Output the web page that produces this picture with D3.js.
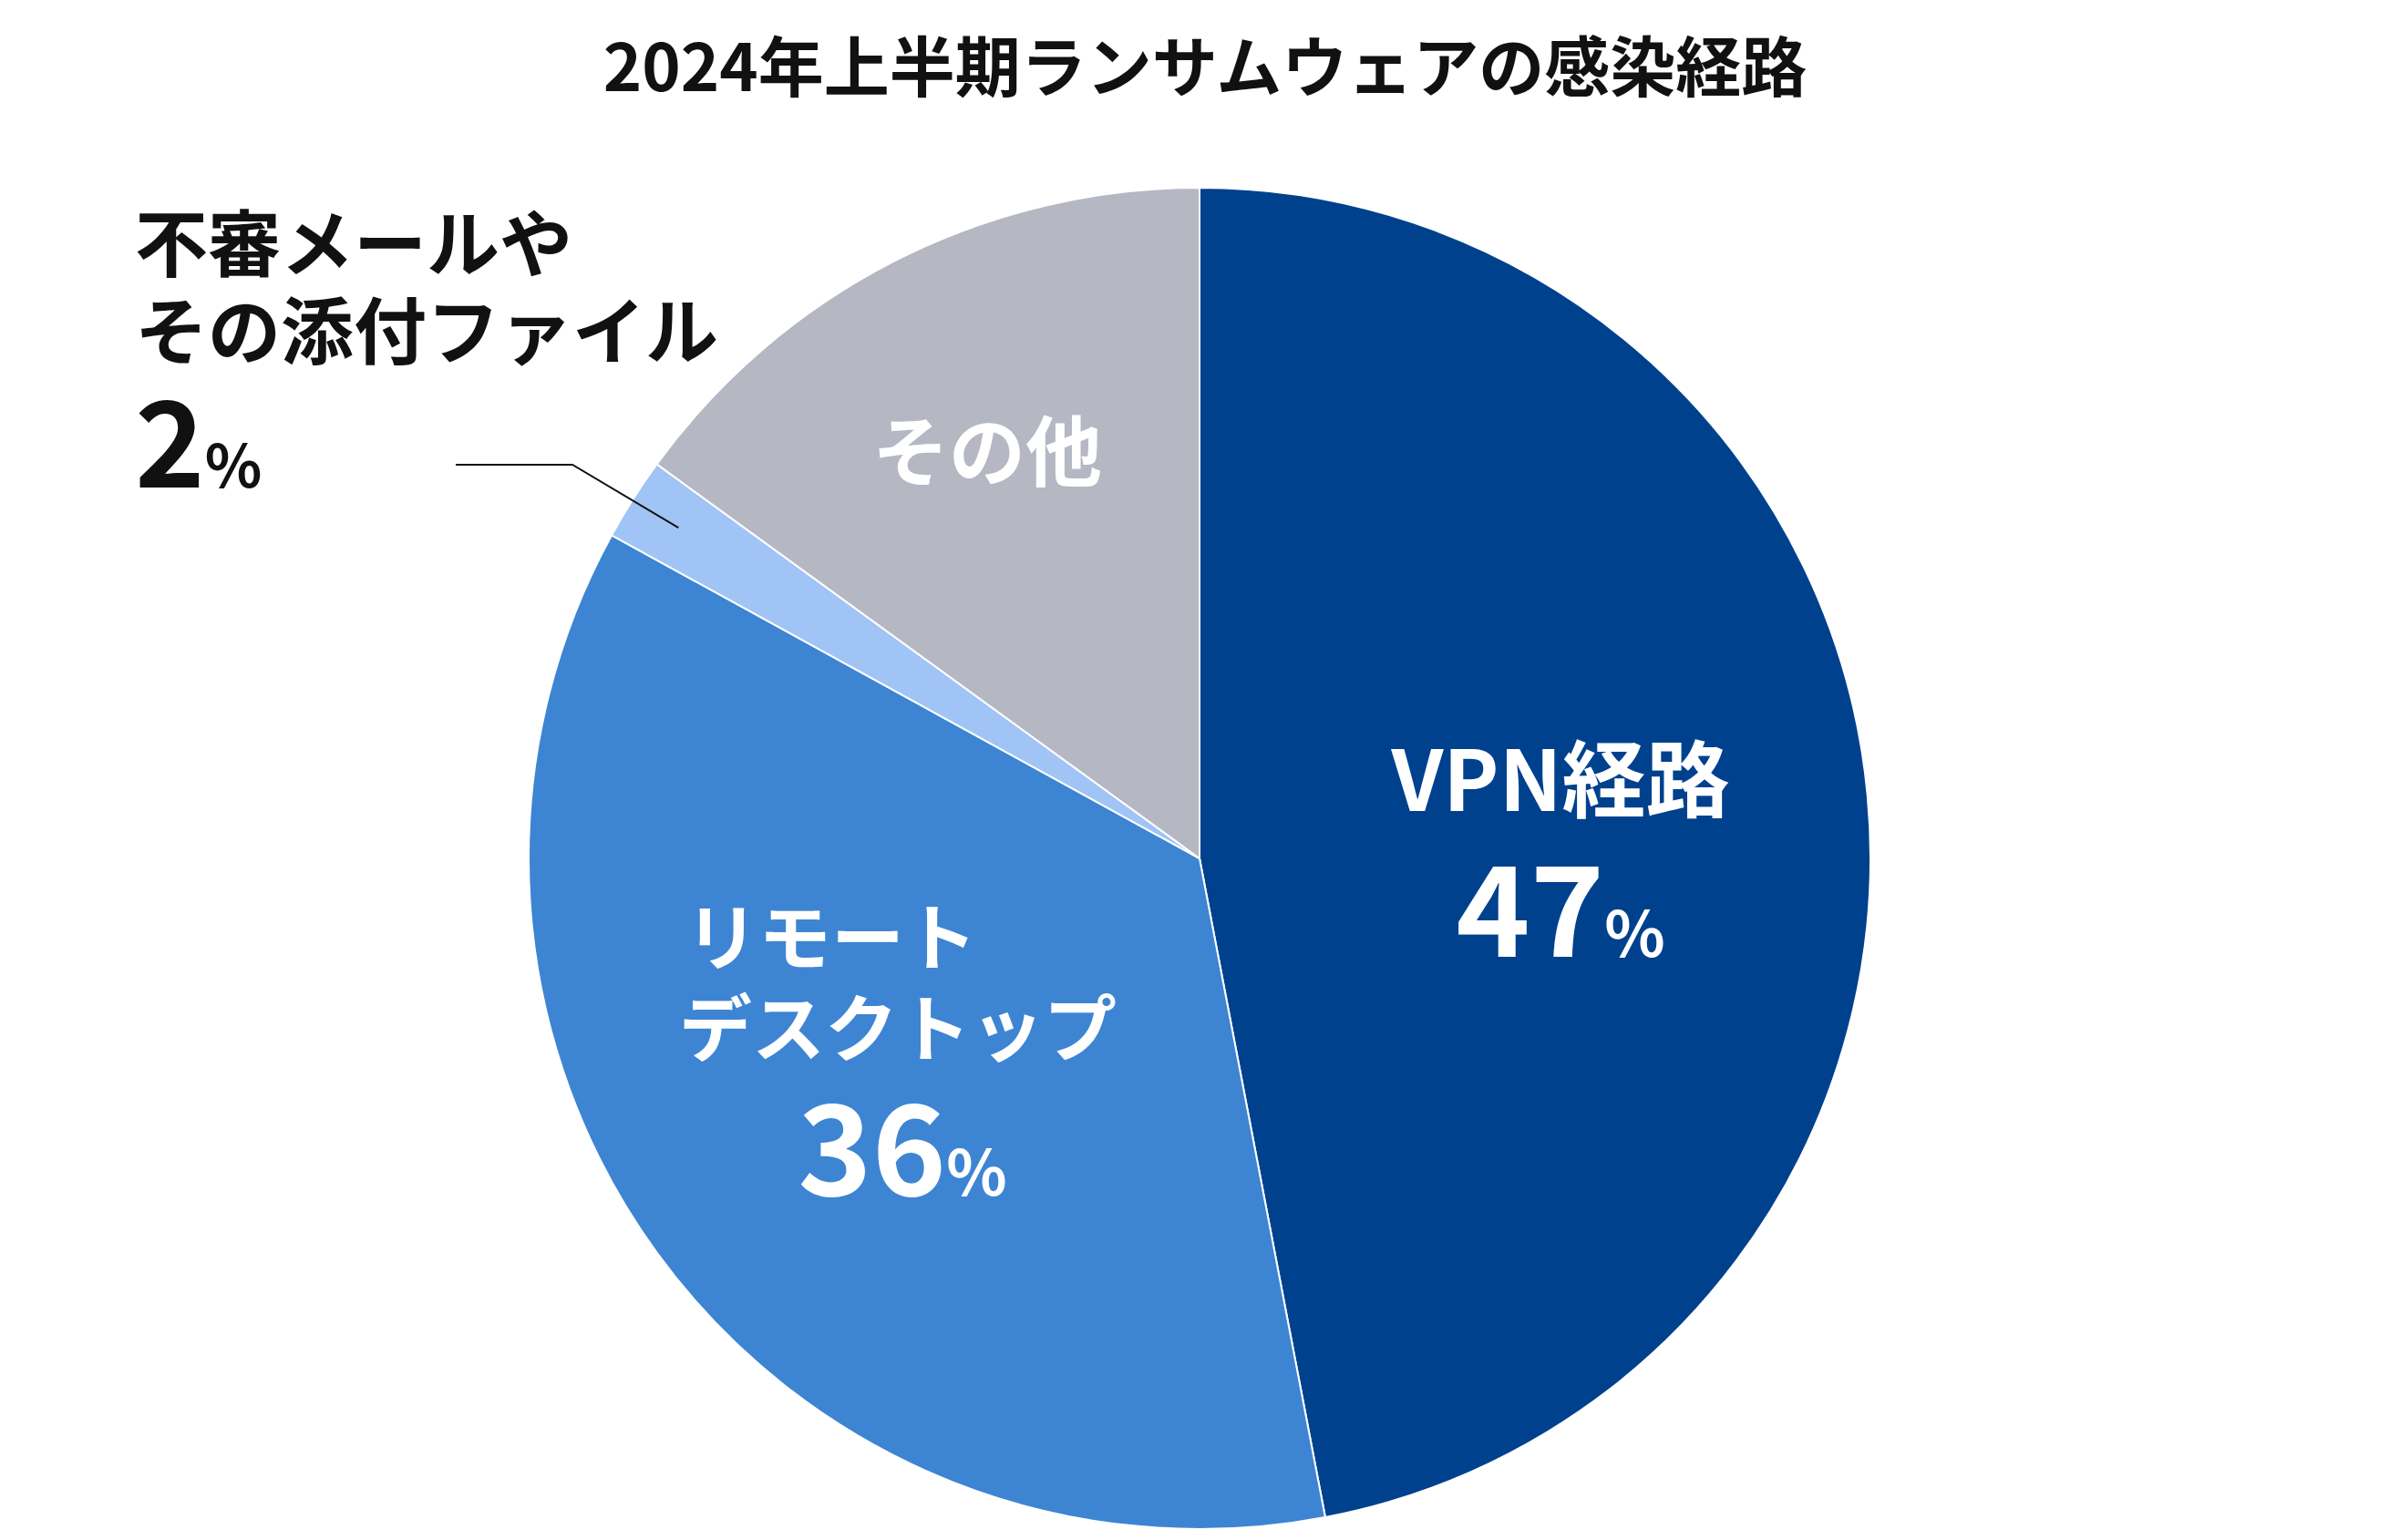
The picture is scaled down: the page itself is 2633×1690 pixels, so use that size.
<!DOCTYPE html>
<html><head><meta charset="utf-8">
<script src="https://cdn.jsdelivr.net/npm/d3@7"></script>
<style>body{margin:0;background:#fff}text{font-family:"Noto Sans CJK JP","Noto Sans",sans-serif;font-weight:700}</style>
</head><body><svg id="c" width="2633" height="1690"></svg>
<script>
const categories = ["VPN経路","リモートデスクトップ","不審メールやその添付ファイル","その他"];
const values = [47, 36, 2, 15];
const colors = ["#00418D","#3D85D3","#A0C4F5","#B5B7C3"];
const title = "2024年上半期ランサムウェアの感染経路";

const cx=1316,cy=942,R=736;
const svg=d3.select("#c");
svg.append("text").attr("x",1322).attr("y",100).attr("text-anchor","middle").attr("font-size",72).attr("fill","#111").text(title);
const pie=d3.pie().sort(null).value(d=>d)(values);
const arc=d3.arc().innerRadius(0).outerRadius(R);
const g=svg.append("g").attr("transform",`translate(${cx},${cy})`);
g.selectAll("path").data(pie).join("path").attr("d",arc).attr("fill",(d,i)=>colors[i]).attr("stroke","#fff").attr("stroke-width",2);

function txt(x,y,fs,fill,anchor,s){return svg.append("text").attr("x",x).attr("y",y).attr("font-size",fs).attr("fill",fill).attr("text-anchor",anchor).text(s);}
function pct(x,y,fs,fill,anchor,v){svg.append("text").attr("x",x).attr("y",y).attr("fill",fill).attr("text-anchor",anchor)
  .call(t=>{t.append("tspan").attr("font-size",fs).text(v);t.append("tspan").attr("font-size",fs*0.5).text("%");});}
// VPN
txt(1712,890,92,"#fff","middle","VPN経路");
pct(1712,1050,138,"#fff","middle",values[0]);
// Remote
txt(752,1058,80,"#fff","start","リモート");
txt(745,1158,80,"#fff","start","デスクトップ");
pct(990,1312,138,"#fff","middle",values[1]);
// Other
txt(1083,527,84,"#fff","middle","その他");
// Mail
txt(148,297,80,"#111","start","不審メールや");
txt(148,393,80,"#111","start","その添付ファイル");
pct(148,535,130,"#111","start",values[2]);
const mid=(pie[2].startAngle+pie[2].endAngle)/2;
const px=cx+Math.sin(mid)*R*0.92, py=cy-Math.cos(mid)*R*0.92;
svg.append("polyline").attr("points",`500,510 628,510 ${px},${py}`).attr("fill","none").attr("stroke","#111").attr("stroke-width",2);
</script></body></html>
